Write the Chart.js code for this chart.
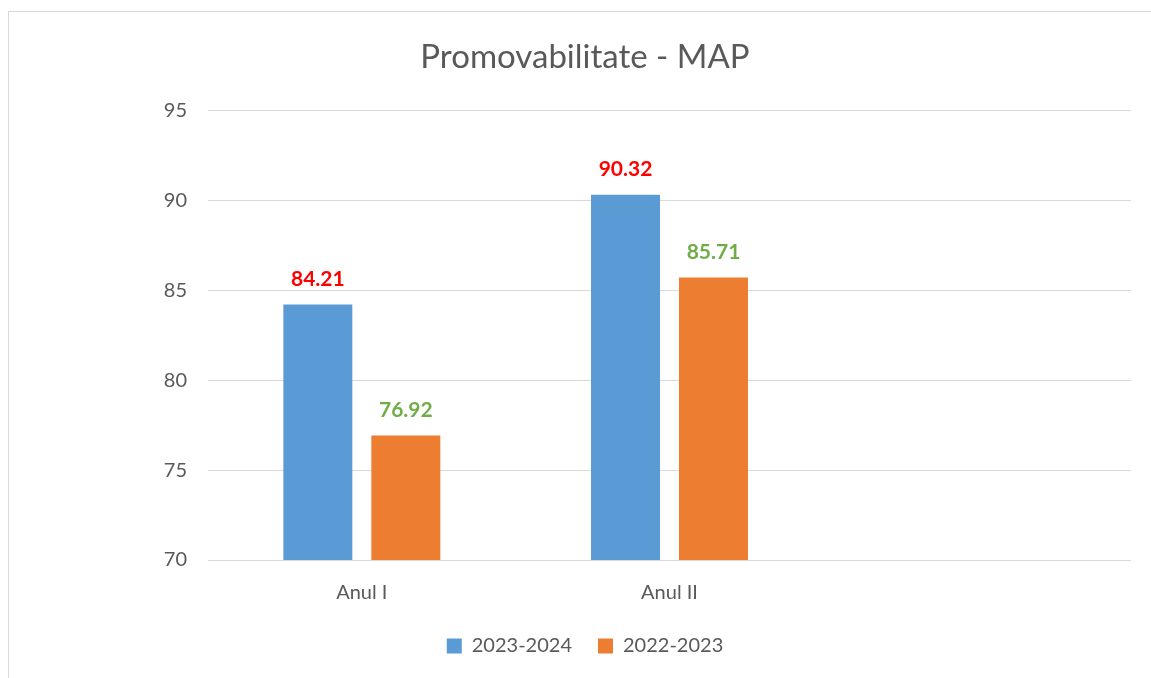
<!DOCTYPE html>
<html>
<head>
<meta charset="utf-8">
<script src="https://cdn.jsdelivr.net/npm/chart.js@4"></script>
<style>
  html, body { margin:0; padding:0; background:#fff; overflow:hidden; }
  #frame {
    position:absolute; left:8px; top:11px;
    width:1160px; height:690px;
    border:1px solid #d9d9d9;
  }
  #wrap { position:absolute; left:0; top:0; width:1143px; height:667px; }
</style>
</head>
<body>
<div id="frame">
  <div id="wrap"><canvas id="promoChart"></canvas></div>
</div>
<script>
// chart data
const categories = ['Anul I', 'Anul II', ''];
const seriesNames = ['2023-2024', '2022-2023'];
const values2324 = [84.21, 90.32, null];
const values2223 = [76.92, 85.71, null];
const yTicks = [70, 75, 80, 85, 90, 95];

const barColors = ['#5B9BD5', '#ED7D31'];
const labelColors = ['#FF0000', '#70AD47'];
const FONT = 'Lato';

// draw the value above each bar
const valueLabels = {
    id: 'valueLabels',
    afterDatasetsDraw(chart) {
        const ctx = chart.ctx;
        ctx.save();
        ctx.font = 'bold 21px ' + FONT;
        ctx.textAlign = 'center';
        ctx.textBaseline = 'bottom';
        chart.data.datasets.forEach((ds, i) => {
            const meta = chart.getDatasetMeta(i);
            meta.data.forEach((bar, j) => {
                const v = ds.data[j];
                if (v == null) return;
                ctx.fillStyle = labelColors[i];
                ctx.fillText(v.toFixed(2), bar.x, bar.y - 15);
            });
        });
        ctx.restore();
    }
};

new Chart(document.getElementById('promoChart'), {
    type: 'bar',
    data: {
        labels: categories,
        datasets: [
            { label: seriesNames[0], data: values2324, backgroundColor: barColors[0] },
            { label: seriesNames[1], data: values2223, backgroundColor: barColors[1] }
        ]
    },
    options: {
        responsive: true,
        maintainAspectRatio: false,
        animation: false,
        layout: { padding: { left: 30, right: 21, top: 0, bottom: 13 } },
        datasets: {
            bar: { categoryPercentage: 0.572, barPercentage: 0.784 }
        },
        plugins: {
            title: {
                display: true,
                text: 'Promovabilitate - MAP',
                color: '#595959',
                font: { family: FONT, size: 33, weight: 'normal' },
                padding: { top: 26, bottom: 33 }
            },
            legend: {
                position: 'bottom',
                labels: {
                    color: '#595959',
                    font: { family: FONT, size: 20 },
                    boxWidth: 15,
                    boxHeight: 15,
                    padding: 26
                }
            },
            tooltip: { enabled: false }
        },
        scales: {
            x: {
                grid: { display: false },
                border: { display: false },
                afterFit(scale) { scale.height -= 8; },
                ticks: {
                    color: '#595959',
                    font: { family: FONT, size: 20 },
                    padding: 13
                }
            },
            y: {
                min: 70,
                max: 95,
                afterBuildTicks(scale) {
                    scale.ticks = yTicks.map(v => ({ value: v }));
                },
                afterFit(scale) { scale.width = 169; },
                grid: { color: '#d9d9d9', drawTicks: false },
                border: { display: false },
                ticks: {
                    color: '#595959',
                    font: { family: FONT, size: 20 },
                    padding: 21
                }
            }
        }
    },
    plugins: [valueLabels]
});
</script>
</body>
</html>
